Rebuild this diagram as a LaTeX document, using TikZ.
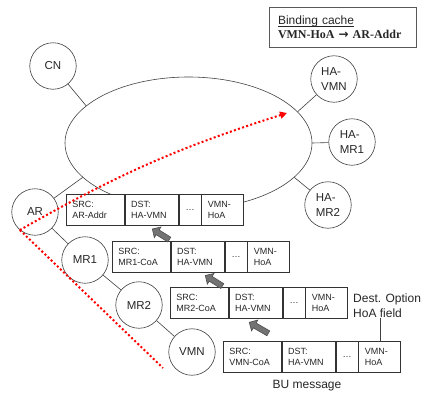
\documentclass[tikz,border=0pt]{standalone}
\usepackage{fontspec}
\setmainfont{Liberation Sans}
\newfontfamily\cachefont{Liberation Serif}
\newfontfamily\arrowfont{DejaVu Sans}
\newcommand\lowrule[1]{\setbox0\hbox{#1}\rlap{\rule[-2pt]{\wd0}{0.6pt}}\box0}
\usetikzlibrary{positioning,shapes.geometric,shapes.arrows,arrows.meta}

\begin{document}
\begin{tikzpicture}[x=1pt,y=-1pt,
  every node/.style={text=black!85},
  host/.style={circle,draw=black!75,line width=0.6pt,minimum size=46.5pt,inner sep=0pt,align=left,font=\fontsize{11.5}{14.5}\selectfont},
  cell/.style={draw=black!80,line width=0.8pt,fill=white,minimum height=31pt,inner xsep=6pt,inner ysep=0pt,align=left,font=\fontsize{9}{11}\selectfont},
  srccell/.style={cell,text width=46pt},
  dstcell/.style={cell,text width=41pt},
  dotcell/.style={cell,minimum width=22pt,inner xsep=0pt},
  hoacell/.style={cell,text width=30pt},
  link/.style={draw=black!75,line width=0.6pt},
  pushed/.style={single arrow,draw=black!70,fill=black!55,line width=0.6pt,minimum height=20pt,inner sep=2.5pt,single arrow head extend=3.5pt},
  redpath/.style={red,line width=2pt,dash pattern=on 2pt off 2.3pt}]
\useasboundingbox (0,0) rectangle (426,394);
% binding cache entry
\node[draw=black!65,line width=0.9pt,minimum width=147pt,minimum height=40pt,inner xsep=9pt,text width=129pt,align=left,font=\fontsize{12}{14}\selectfont] (cache) at (342.5,27) {\lowrule{Binding cache}\\{\cachefont\bfseries VMN-HoA {\arrowfont →} AR-Addr}};
% network and hosts
\node[ellipse,draw=black!75,line width=0.6pt,minimum width=247pt,minimum height=132pt,inner sep=0pt] (net) at (188.5,143) {};
\node[host] (cn) at (53,66) {CN};
\node[host] (havmn) at (334,79) {HA-\\VMN};
\node[host] (hamr1) at (352,142) {HA-\\MR1};
\node[host] (hamr2) at (328,205) {HA-\\MR2};
\node[host] (ar) at (35,212) {AR};
\node[host] (mr1) at (85,260) {MR1};
\node[host] (mr2) at (139,305) {MR2};
\node[host] (vmn) at (192,352) {VMN};
\draw[link] (net.160) -- (cn);
\draw[link] (net.16) -- (havmn);
\draw[link] (net.east) -- (hamr1);
\draw[link] (net.-18) -- (hamr2);
\draw[link] (net.198) -- (ar);
\draw[link] (ar) -- (mr1);
\draw[link] (mr1) -- (mr2);
\draw[link] (mr2) -- (vmn);
% BU as seen after each hop
\node[srccell,anchor=north west] (src1) at (66,194) {SRC:\\AR-Addr};
\node[dstcell,right=0pt of src1] (dst1) {DST:\\HA-VMN};
\node[dotcell,right=0pt of dst1] (dot1) {\dots};
\node[hoacell,right=0pt of dot1] (hoa1) {VMN-\\HoA};
\node[srccell,anchor=north west] (src2) at (112,241) {SRC:\\MR1-CoA};
\node[dstcell,right=0pt of src2] (dst2) {DST:\\HA-VMN};
\node[dotcell,right=0pt of dst2] (dot2) {\dots};
\node[hoacell,right=0pt of dot2] (hoa2) {VMN-\\HoA};
\node[srccell,anchor=north west] (src3) at (170,287) {SRC:\\MR2-CoA};
\node[dstcell,right=0pt of src3] (dst3) {DST:\\HA-VMN};
\node[dotcell,right=0pt of dst3] (dot3) {\dots};
\node[hoacell,right=0pt of dot3] (hoa3) {VMN-\\HoA};
\node[srccell,anchor=north west] (src4) at (223,341) {SRC:\\VMN-CoA};
\node[dstcell,right=0pt of src4] (dst4) {DST:\\HA-VMN};
\node[dotcell,right=0pt of dst4] (dot4) {\dots};
\node[hoacell,right=0pt of dot4] (hoa4) {VMN-\\HoA};
\node[pushed,rotate=148] (push1) at (162,235) {};
\node[pushed,rotate=148] (push2) at (215,281.5) {};
\node[pushed,rotate=150,minimum height=22pt] (push3) at (260,328.5) {};
% labels
\node[anchor=north west,align=left,inner sep=0pt,font=\fontsize{12}{15}\selectfont] (destopt) at (353,294) {Dest. Option\\HoA field};
\draw[link] (hoa4.north) -- (hoa4.north |- destopt.south);
\node[inner sep=0pt,font=\fontsize{12}{14}\selectfont] (bumsg) at (307,386) {BU message};
% red path
\coordinate (apex) at (ar.230);
\coordinate (hatarget) at (287,113);
\coordinate (redend) at (163,368);
\draw[redpath,-{Triangle[length=7pt,width=7pt]}] (apex) to[bend left=6] (hatarget);
\draw[redpath] (apex) -- (redend);
\end{tikzpicture}
\end{document}
